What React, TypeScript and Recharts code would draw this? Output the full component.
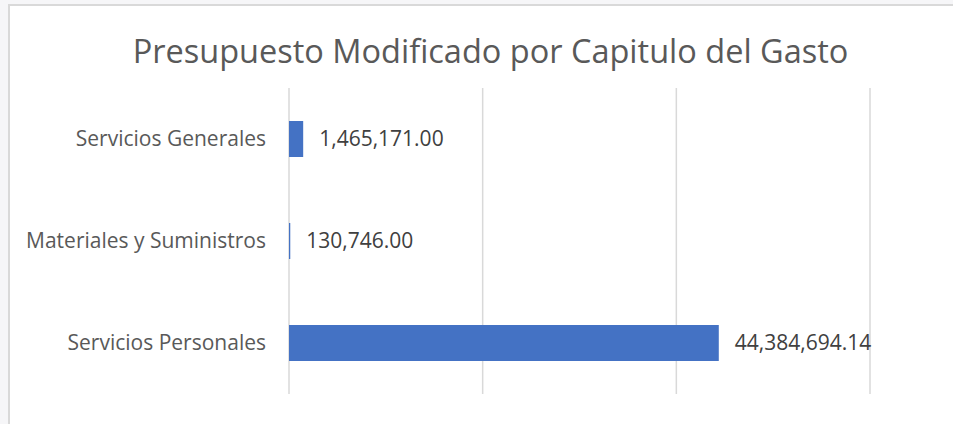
import { BarChart, Bar, XAxis, YAxis, CartesianGrid, LabelList } from 'recharts';

const categories = ['Servicios Generales', 'Materiales y Suministros', 'Servicios Personales'];
const amounts = [1465171.0, 130746.0, 44384694.14];
const xTicks = [0, 20000000, 40000000, 60000000];

const data = categories.map((name, i) => ({ name, value: amounts[i] }));

const FONT = '"Open Sans", sans-serif';

const fmt = (v: number) =>
  v.toLocaleString('en-US', { minimumFractionDigits: 2, maximumFractionDigits: 2 });

export default function App() {
  return (
    <div
      style={{
        position: 'absolute',
        left: 0,
        top: 0,
        width: 953,
        height: 424,
        background: '#f6f6f8',
        overflow: 'hidden',
        fontFamily: FONT,
      }}
    >
      <div
        style={{
          position: 'absolute',
          left: 8,
          top: 4,
          width: 960,
          height: 430,
          background: '#fff',
          borderTop: '2px solid #d9d9d9',
          borderLeft: '2px solid #d9d9d9',
        }}
      />
      <div
        style={{
          position: 'absolute',
          left: 0,
          top: 30,
          width: 981,
          textAlign: 'center',
          fontSize: 32.5,
          color: '#595959',
          lineHeight: '42px',
        }}
      >
        Presupuesto Modificado por Capitulo del Gasto
      </div>
      <div style={{ position: 'absolute', left: 0, top: 0 }}>
        <BarChart
          width={953}
          height={424}
          data={data}
          layout="vertical"
          margin={{ top: 88, right: 83, bottom: 30, left: 8 }}
        >
          <CartesianGrid horizontal={false} stroke="#d9d9d9" strokeWidth={1.5} />
          <XAxis
            type="number"
            domain={[0, 60000000]}
            ticks={xTicks}
            interval={0}
            tick={() => <g />}
            axisLine={false}
            tickLine={false}
            height={0}
          />
          <YAxis
            type="category"
            dataKey="name"
            width={281}
            axisLine={false}
            tickLine={false}
            tickSize={0}
            tickMargin={23}
            tick={{ fill: '#595959', fontSize: 21, fontFamily: FONT }}
          />
          <Bar dataKey="value" fill="#4472c4" barSize={36} isAnimationActive={false}>
            <LabelList
              dataKey="value"
              position="right"
              offset={16}
              formatter={(v: any) => fmt(Number(v))}
              fill="#404040"
              fontSize={21}
              fontFamily={FONT}
            />
          </Bar>
        </BarChart>
      </div>
    </div>
  );
}
